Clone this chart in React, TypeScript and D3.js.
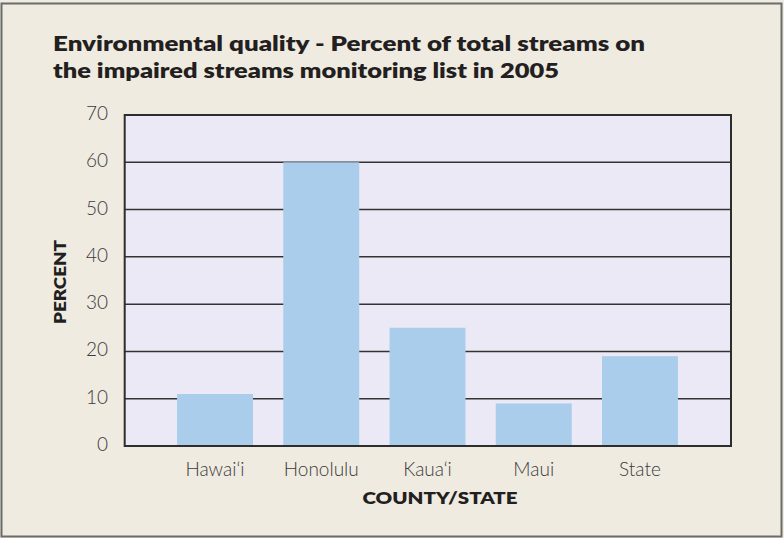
import React from "react";
import * as d3 from "d3";

const categories = ["Hawai‘i", "Honolulu", "Kaua‘i", "Maui", "State"];
const values = [11, 60, 25, 9, 19];
const yTicks = [0, 10, 20, 30, 40, 50, 60, 70];
const titleLines = [
  "Environmental quality - Percent of total streams on",
  "the impaired streams monitoring list in 2005",
];

export default function App() {
  const W = 784, H = 538;
  const left = 124.7, right = 731, top = 115, bottom = 446;
  const y = d3.scaleLinear().domain([0, 70]).range([bottom, top]);
  const x = d3
    .scaleBand<string>()
    .domain(categories)
    .range([161.9, 693.1])
    .paddingInner(0.285)
    .paddingOuter(0.1425);
  const font = "Lato, 'Open Sans', sans-serif";
  return (
    <svg width={W} height={H} style={{ position: "absolute", left: 0, top: 0 }}>
      <rect x={0} y={0} width={W} height={H} fill="#EFEBE1" />
      <rect x={1.5} y={3.5} width={780} height={533} fill="#EFEBE1" stroke="#6b6b6b" strokeWidth={2} />
      <text x={53} y={51} fontFamily={font} fontWeight={800} fontSize={20} fill="#231f20" textLength={592} lengthAdjust="spacingAndGlyphs">{titleLines[0]}</text>
      <text x={53} y={78} fontFamily={font} fontWeight={800} fontSize={20} fill="#231f20" textLength={506} lengthAdjust="spacingAndGlyphs">{titleLines[1]}</text>
      <rect x={left} y={top} width={right - left} height={bottom - top} fill="#EBE9F5" />
      {yTicks.filter((t) => t > 0 && t < 70).map((t) => (
        <line key={t} x1={left} x2={right} y1={y(t)} y2={y(t)} stroke="#333" strokeWidth={1.5} />
      ))}
      {categories.map((c, i) => (
        <rect key={c} x={x(c)} y={y(values[i])} width={x.bandwidth()} height={bottom - y(values[i])} fill="#ABCDEC" />
      ))}
      <rect x={left} y={top} width={right - left} height={bottom - top} fill="none" stroke="#2d2d2d" strokeWidth={2} />
      {yTicks.map((t) => (
        <text key={t} x={108} y={y(t) + 5} textAnchor="end" fontFamily={font} fontWeight={300} fontSize={19} fill="#3a3a3a">{t}</text>
      ))}
      {categories.map((c) => (
        <text key={c} x={(x(c) as number) + x.bandwidth() / 2} y={476} textAnchor="middle" fontFamily={font} fontWeight={300} fontSize={19} fill="#3a3a3a">{c}</text>
      ))}
      <text x={440} y={504} textAnchor="middle" fontFamily={font} fontWeight={800} fontSize={17} fill="#231f20" textLength={155} lengthAdjust="spacingAndGlyphs">COUNTY/STATE</text>
      <text transform="translate(66,282) rotate(-90)" textAnchor="middle" fontFamily={font} fontWeight={800} fontSize={17} fill="#231f20" textLength={84} lengthAdjust="spacingAndGlyphs">PERCENT</text>
    </svg>
  );
}
